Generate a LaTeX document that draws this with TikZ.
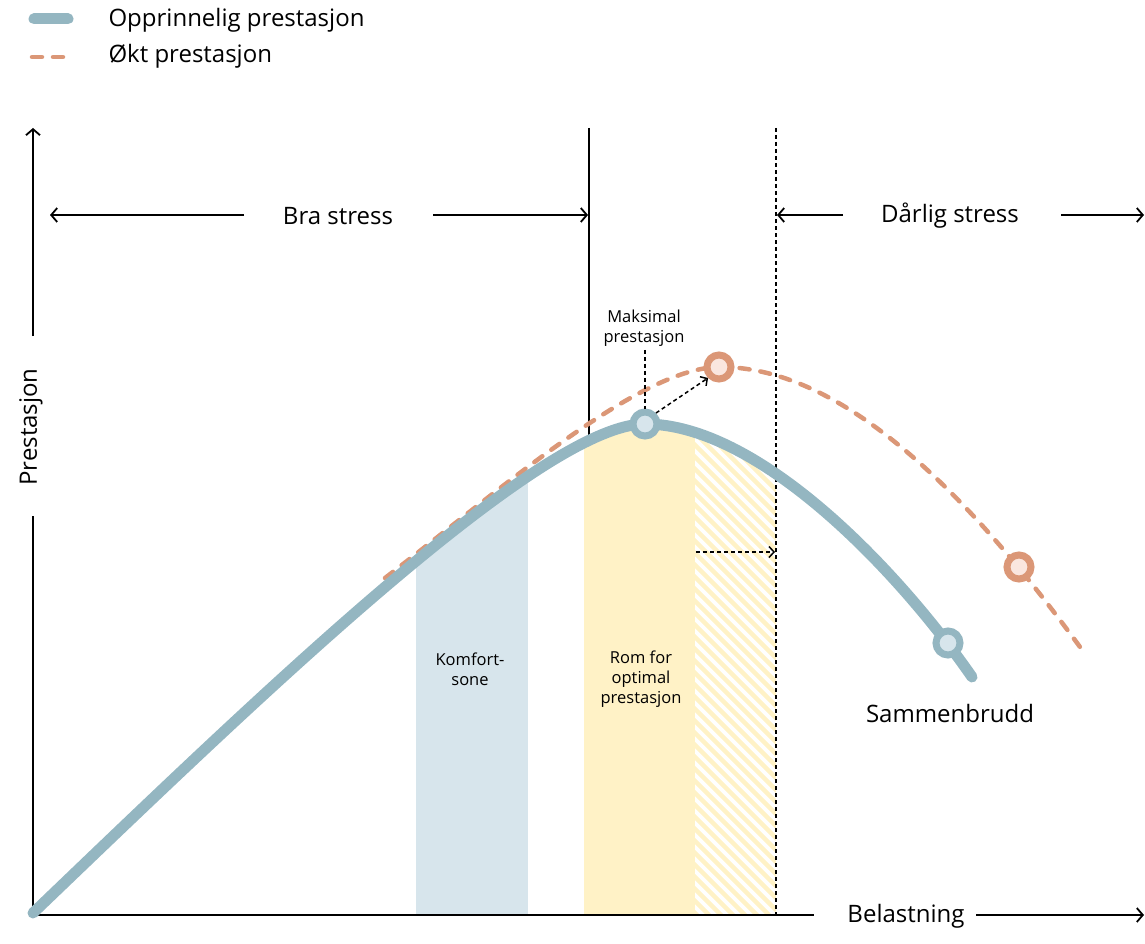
\documentclass[tikz,border=0pt]{standalone}
\usepackage{fontspec}
\setmainfont{Open Sans}
\usetikzlibrary{arrows.meta}
\definecolor{curveblue}{HTML}{94B6C1}
\definecolor{lightblue}{HTML}{D7E5EC}
\definecolor{curveorange}{HTML}{DB9777}
\definecolor{lightorange}{HTML}{FAE6DF}
\definecolor{zoneyellow}{HTML}{FFF2C6}
\tikzset{
  axisline/.style={line width=1.8pt, black},
  arr/.style={-{Straight Barb[length=6pt,width=14pt,line width=1.8pt]}},
  dotline/.style={line width=1.8pt, black, dash pattern=on 4pt off 3pt},
  bluecurve/.style={line width=11pt, curveblue, line cap=round},
  orangecurve/.style={line width=4.5pt, curveorange, line cap=round, dash pattern=on 10pt off 11pt},
  bluemark/.style={circle, draw=curveblue, line width=7pt, fill=lightblue, minimum size=24pt, inner sep=0pt},
  orangemark/.style={circle, draw=curveorange, line width=7pt, fill=lightorange, minimum size=24pt, inner sep=0pt},
  bigtext/.style={font=\fontsize{24}{28}\selectfont},
  smalltext/.style={font=\fontsize{16.5}{20}\selectfont, align=center},
}
\begin{document}
\begin{tikzpicture}[x=1pt,y=-1pt]
\useasboundingbox (0,0) rectangle (1145,944);
% legend
\draw[bluecurve] (34,19) coordinate (lb1) -- (68,19) coordinate (lb2);
\draw[orangecurve] (32,57) coordinate (lo1) -- (70,57) coordinate (lo2);
\node[bigtext, anchor=west] (lgA) at (105,20) {Opprinnelig prestasjon};
\node[bigtext, anchor=west] (lgB) at (105,56) {Økt prestasjon};

% zone fills, clipped under the blue curve
\begin{scope}
\clip (33,913) .. controls (250,705) and (540,424) .. (645,424) .. controls (760,424) and (900,573) .. (972,677) -- (972,915) -- (33,915) -- cycle;
\fill[lightblue] (416,380) rectangle (528,915);
\fill[zoneyellow] (584,380) rectangle (695,915);
\begin{scope}
\clip (695,380) rectangle (776,915);
\foreach \i in {0,...,55} {
  \draw[zoneyellow, line width=4.5pt] (150+\i*12,380) -- ++(560,560);
}
\end{scope}
\end{scope}

% vertical separators
\coordinate (solidtop) at (589,128);
\coordinate (solidbot) at (589,440);
\draw[line width=1.5pt] (solidtop) -- (solidbot);
\coordinate (dottop) at (776,128);
\coordinate (dotbot) at (776,915);
\draw[dotline] (dottop) -- (dotbot);

% axes
\node[bigtext, rotate=90] (ylab) at (31,427) {Prestasjon};
\coordinate (origin) at (33,915);
\coordinate (ybreak) at (33,516);
\coordinate (ybreak2) at (33,336);
\coordinate (ytop) at (33,128);
\draw[axisline] (origin) -- (ybreak);
\draw[axisline, arr] (ybreak2) -- (ytop);
\node[bigtext] (xlab) at (906,916) {Belastning};
\coordinate (xbreak) at (814,915);
\coordinate (xbreak2) at (976,915);
\coordinate (xend) at (1144,915);
\draw[axisline] (origin) -- (xbreak);
\draw[axisline, arr] (xbreak2) -- (xend);

% stress labels
\node[bigtext] (bra) at (338,216) {Bra stress};
\coordinate (braL1) at (244,215);
\coordinate (braL2) at (50,215);
\coordinate (braR1) at (433,215);
\coordinate (braR2) at (588,215);
\draw[axisline, line width=1.5pt, arr] (braL1) -- (braL2);
\draw[axisline, line width=1.5pt, arr] (braR1) -- (braR2);
\node[bigtext] (darlig) at (950,216) {Dårlig stress};
\coordinate (dL1) at (843,215);
\coordinate (dL2) at (777,215);
\coordinate (dR1) at (1061,215);
\coordinate (dR2) at (1144,215);
\draw[axisline, line width=1.5pt, arr] (dL1) -- (dL2);
\draw[axisline, line width=1.5pt, arr] (dR1) -- (dR2);

% curves
\draw[orangecurve] (385,578) .. controls (500,490) and (640,367) .. (720,367) .. controls (850,367) and (980,510) .. (1080,647);
\draw[bluecurve] (33,913) .. controls (250,705) and (540,424) .. (645,424) .. controls (760,424) and (900,573) .. (972,677);

% markers
\node[bluemark] (peakB) at (645,424) {};
\node[bluemark] (crashB) at (948,643) {};
\node[orangemark] (peakO) at (719,367) {};
\node[orangemark] (crashO) at (1019,567) {};

% maksimal prestasjon
\node[smalltext] (maks) at (644,328) {Maksimal\\prestasjon};
\draw[dotline, line width=1.5pt] (maks.south) ++(1,0) coordinate (mk) -- (peakB.north);
\draw[dotline, line width=1.5pt, -{Straight Barb[length=5pt,width=11pt,line width=1.5pt]}] (peakB.north east) -- (peakO.south west);
\coordinate (hA) at (696,552);
\coordinate (hB) at (775,552);
\draw[dotline, line width=1.5pt, -{Straight Barb[length=5pt,width=11pt,line width=1.5pt]}] (hA) -- (hB);

% zone labels
\node[smalltext] (komfort) at (470,669) {Komfort-\\sone};
\node[smalltext] (rom) at (641,679) {Rom for\\optimal\\prestasjon};
\node[bigtext] (sammen) at (950,713) {Sammenbrudd};
\end{tikzpicture}
\end{document}
